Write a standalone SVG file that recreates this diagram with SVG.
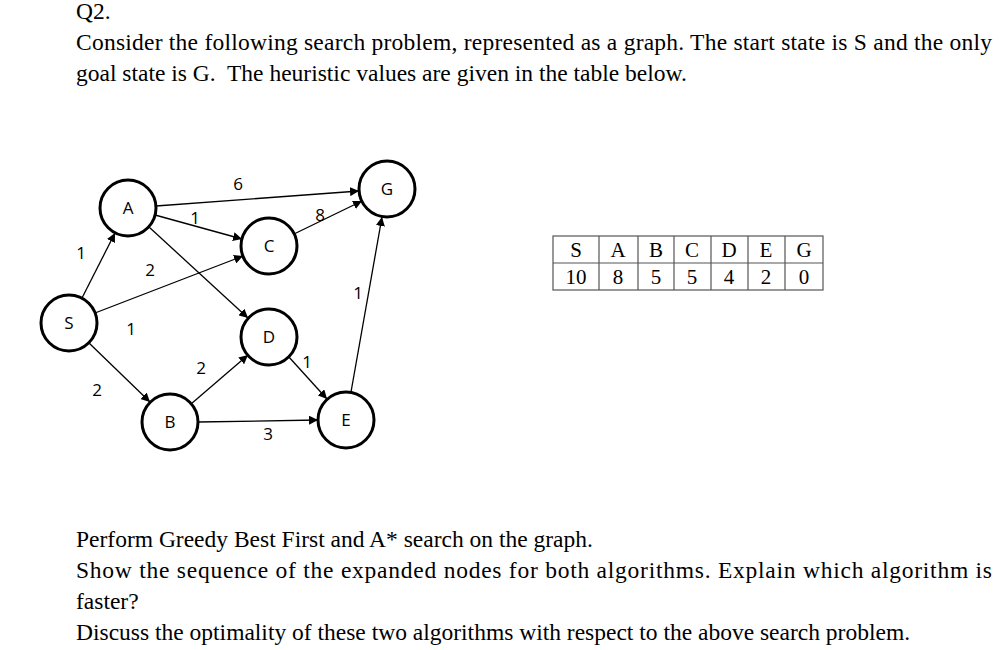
<svg xmlns="http://www.w3.org/2000/svg" width="1005" height="650" viewBox="0 0 1005 650">
<style>
.t{font-family:"Liberation Serif",serif;font-size:23.5px;fill:#000}
.n circle{fill:#fff;stroke:#000;stroke-width:3}
.n text,.w{font-family:"Open Sans","Liberation Sans",sans-serif;font-size:17px;text-anchor:middle;fill:#000}
.e line{stroke:#000;stroke-width:1.3;marker-end:url(#ar)}
.tb{font-family:"Liberation Serif",serif;font-size:21px;text-anchor:middle}
</style>
<defs><marker id="ar" viewBox="0 0 10 10" refX="10" refY="5" markerWidth="9" markerHeight="9" markerUnits="userSpaceOnUse" orient="auto"><path d="M0,0L10,5L0,10z"/></marker></defs>
<rect width="1005" height="650" fill="#fff"/>
<text class="t" x="76" y="19">Q2.</text>
<text class="t" x="76" y="50" textLength="916" lengthAdjust="spacing">Consider the following search problem, represented as a graph. The start state is S and the only</text>
<text class="t" x="76" y="81" xml:space="preserve">goal state is G.  The heuristic values are given in the table below.</text>
<text class="t" x="76" y="547">Perform Greedy Best First and A* search on the graph.</text>
<text class="t" x="76" y="578" textLength="916" lengthAdjust="spacing">Show the sequence of the expanded nodes for both algorithms. Explain which algorithm is</text>
<text class="t" x="76" y="609">faster?</text>
<text class="t" x="76" y="640">Discuss the optimality of these two algorithms with respect to the above search problem.</text>
<g id="edges" class="e">
<line x1="82" y1="298" x2="115" y2="233"/>
<line x1="95" y1="313" x2="243" y2="256"/>
<line x1="89" y1="343" x2="150" y2="402"/>
<line x1="156" y1="206" x2="359" y2="191"/>
<line x1="155" y1="215" x2="242" y2="239"/>
<line x1="149" y1="227" x2="248" y2="318"/>
<line x1="294" y1="234" x2="362" y2="201"/>
<line x1="191" y1="404" x2="248" y2="355"/>
<line x1="198" y1="422" x2="318" y2="420"/>
<line x1="288" y1="356" x2="327" y2="399"/>
<line x1="351" y1="392" x2="382" y2="217"/>
</g>
<g id="weights">
<text class="w" x="238" y="190">6</text>
<text class="w" x="320" y="221">8</text>
<text class="w" x="195" y="224">1</text>
<text class="w" x="150" y="276">2</text>
<text class="w" x="81" y="259">1</text>
<text class="w" x="131" y="335">1</text>
<text class="w" x="97" y="396">2</text>
<text class="w" x="201" y="374">2</text>
<text class="w" x="307" y="368">1</text>
<text class="w" x="268" y="440">3</text>
<text class="w" x="358" y="299">1</text>
</g>
<g id="S" class="n"><circle cx="69" cy="323" r="28"/><text x="69" y="329">S</text></g>
<g id="A" class="n"><circle cx="128" cy="208" r="28"/><text x="128" y="214">A</text></g>
<g id="B" class="n"><circle cx="170" cy="422" r="28"/><text x="170" y="428">B</text></g>
<g id="C" class="n"><circle cx="269" cy="246" r="28"/><text x="269" y="252">C</text></g>
<g id="D" class="n"><circle cx="269" cy="337" r="28"/><text x="269" y="343">D</text></g>
<g id="E" class="n"><circle cx="346" cy="420" r="28"/><text x="346" y="426">E</text></g>
<g id="G" class="n"><circle cx="387" cy="189" r="28"/><text x="387" y="195">G</text></g>
<g id="table">
<rect x="553" y="236" width="270" height="54" fill="none" stroke="#555" stroke-width="1.2"/>
<path d="M553,263H823M599,236V290M638,236V290M674,236V290M711,236V290M748,236V290M785,236V290" stroke="#555" stroke-width="1.2"/>
<g class="tb">
<text x="576" y="257">S</text><text x="618" y="257">A</text><text x="656" y="257">B</text><text x="692" y="257">C</text><text x="729" y="257">D</text><text x="766" y="257">E</text><text x="804" y="257">G</text>
<text x="576" y="284">10</text><text x="618" y="284">8</text><text x="656" y="284">5</text><text x="692" y="284">5</text><text x="729" y="284">4</text><text x="766" y="284">2</text><text x="804" y="284">0</text>
</g></g>
</svg>
